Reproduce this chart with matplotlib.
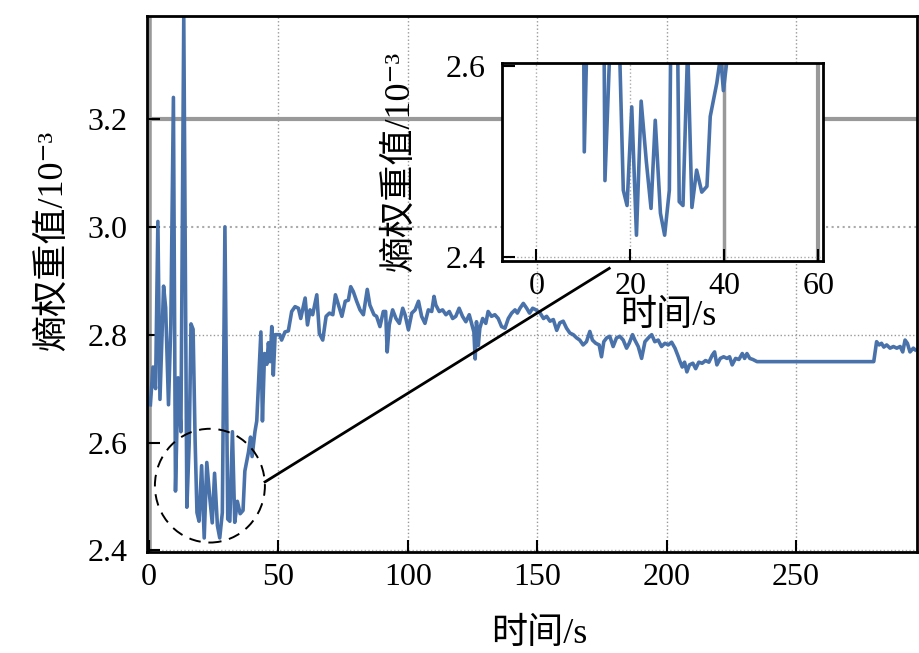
import matplotlib
matplotlib.use("Agg")
import matplotlib.pyplot as plt
from matplotlib.patches import Ellipse

plt.rcParams['font.family'] = ['Liberation Serif', 'Noto Sans CJK SC', 'DejaVu Serif']

# time (s) and entropy weight (x10^-3)
time_s = [0.5, 1.5, 2.5, 3.4, 4.2, 5.0, 5.6, 6.4, 7.5, 8.4, 9.4, 10.2, 11.2, 12.3, 13.4,
          14.6, 15.5, 16.2, 17.0, 17.8, 18.5, 19.3, 20.3, 21.3, 22.3, 23.4, 24.4, 25.3,
          26.4, 27.3, 28.3, 29.3, 30.4, 31.2, 32.2, 33.1, 34.1, 35.2, 36.3, 37.0, 38.4,
          39.2, 39.8, 40.9, 41.6, 42.5, 43.2, 43.8, 44.6, 45.5, 46.1, 46.8, 47.4, 48.0,
          48.7, 49.5, 50.5, 51.2, 52.5, 53.8, 55.1, 56.4, 57.7, 58.6, 60.3, 61.2, 62.2,
          63.2, 64.8, 65.8, 67.1, 68.4, 69.7, 71.0, 72.0, 73.2, 74.5, 75.8, 77.0, 77.9,
          78.9, 80.2, 81.5, 82.8, 84.3, 85.3, 86.9, 87.9, 89.2, 90.5, 91.4, 92.0, 92.8,
          94.1, 95.4, 96.7, 98.0, 98.9, 100.2, 101.5, 102.8, 104.1, 105.3, 106.6, 107.9,
          109.2, 110.1, 110.8, 112.1, 113.4, 114.7, 116.0, 117.3, 118.5, 119.8, 121.1,
          122.4, 123.7, 124.6, 125.5, 126.0, 126.5, 127.2, 127.8, 128.9, 130.1, 131.0,
          132.3, 133.6, 134.9, 136.2, 137.5, 138.8, 140.1, 141.4, 142.3, 143.3, 144.6,
          145.9, 147.0, 148.2, 149.5, 151.1, 152.4, 153.6, 154.9, 156.2, 157.5, 158.7,
          160.0, 161.3, 162.6, 163.9, 165.2, 166.4, 167.7, 169.0, 170.3, 171.3, 172.6,
          173.9, 174.8, 175.7, 176.8, 178.0, 179.3, 180.6, 181.9, 183.2, 184.5, 185.5,
          186.8, 187.7, 189.0, 190.3, 191.6, 192.9, 194.2, 195.4, 196.7, 198.0, 199.3,
          200.6, 201.9, 203.2, 204.5, 205.0, 206.0, 206.9, 207.8, 208.8, 210.1, 211.2,
          212.4, 213.7, 215.0, 216.3, 217.6, 218.5, 219.4, 220.7, 222.0, 223.3, 224.3,
          225.3, 226.6, 227.9, 229.2, 230.1, 231.0, 232.1, 233.3, 234.9, 280.0, 281.1,
          282.1, 283.0, 283.9, 285.0, 286.3, 287.6, 288.9, 290.2, 291.2, 292.1, 293.0,
          294.0, 295.3, 296.0]
weight = [2.67, 2.74, 2.70, 3.01, 2.68, 2.80, 2.89, 2.85, 2.67, 2.82, 3.24, 2.51, 2.72, 2.62, 3.39,
          2.48, 2.60, 2.82, 2.81, 2.60, 2.47, 2.454, 2.557, 2.423, 2.563, 2.50, 2.451, 2.543,
          2.446, 2.423, 2.47, 3.00, 2.458, 2.454, 2.62, 2.452, 2.491, 2.468, 2.474, 2.547, 2.582,
          2.61, 2.574, 2.62, 2.64, 2.735, 2.805, 2.64, 2.765, 2.745, 2.785, 2.75, 2.815, 2.725,
          2.80, 2.80, 2.80, 2.79, 2.805, 2.807, 2.843, 2.852, 2.849, 2.83, 2.868, 2.818, 2.846,
          2.837, 2.874, 2.802, 2.79, 2.834, 2.84, 2.837, 2.874, 2.855, 2.834, 2.862, 2.864, 2.889,
          2.88, 2.862, 2.846, 2.837, 2.884, 2.855, 2.837, 2.834, 2.815, 2.843, 2.843, 2.768, 2.818,
          2.846, 2.83, 2.821, 2.849, 2.837, 2.809, 2.84, 2.846, 2.862, 2.834, 2.821, 2.846,
          2.843, 2.871, 2.855, 2.843, 2.846, 2.837, 2.843, 2.83, 2.834, 2.849, 2.834,
          2.824, 2.837, 2.821, 2.805, 2.755, 2.824, 2.78, 2.812, 2.83, 2.821, 2.843,
          2.834, 2.837, 2.83, 2.815, 2.812, 2.83, 2.84, 2.846, 2.84, 2.849, 2.858,
          2.849, 2.84, 2.849, 2.846, 2.84, 2.83, 2.834, 2.825, 2.828, 2.808, 2.822,
          2.825, 2.812, 2.803, 2.80, 2.794, 2.79, 2.781, 2.787, 2.806, 2.79, 2.784,
          2.781, 2.759, 2.787, 2.794, 2.797, 2.778, 2.794, 2.797, 2.79, 2.775, 2.784,
          2.80, 2.79, 2.778, 2.756, 2.787, 2.794, 2.80, 2.787, 2.79, 2.778, 2.784,
          2.781, 2.786, 2.775, 2.759, 2.752, 2.74, 2.749, 2.731, 2.744, 2.747, 2.737,
          2.749, 2.747, 2.752, 2.749, 2.762, 2.768, 2.744, 2.756, 2.759, 2.756, 2.759,
          2.744, 2.756, 2.754, 2.765, 2.756, 2.765, 2.756, 2.754, 2.75, 2.75, 2.787,
          2.781, 2.784, 2.777, 2.781, 2.775, 2.778, 2.775, 2.778, 2.768, 2.79, 2.784,
          2.768, 2.775, 2.772]

x_ticks = [0, 50, 100, 150, 200, 250]
y_ticks = [2.4, 2.6, 2.8, 3.0, 3.2]
inset_x_ticks = [0, 20, 40, 60]
inset_y_ticks = [2.4, 2.6]

ylabel_text = "熵权重值/10\u207b\u00b3"
xlabel_text = "时间/s"

line_color = '#4a72aa'
fs = 23
lfs = 26

fig = plt.figure(figsize=(9.2, 6.53), dpi=100)
ax = fig.add_axes([0.1598, 0.1547, 0.8369, 0.8208])

# grid (as in reference)
for xt in x_ticks[1:]:
    ax.axvline(xt, color='#999999', lw=1.0, ls=':', zorder=0)
ax.axvline(0, color='#999999', lw=4, zorder=0)
ax.axhline(2.8, color='#999999', lw=1.0, ls=':', zorder=0)
ax.axhline(3.0, color='#aaaaaa', lw=1.5, ls=':', zorder=0)
ax.axhline(3.2, color='#999999', lw=3, zorder=0)
ax.axhline(2.4, color='#aaaaaa', lw=1.0, ls=':', zorder=0)

ax.plot(time_s, weight, color=line_color, lw=2.6, zorder=2)
ax.set_xlim(-0.8, 296.7)
ax.set_ylim(2.397, 3.391)
ax.set_xticks(x_ticks)
ax.set_yticks(y_ticks)
ax.set_yticklabels([f"{v:.1f}" for v in y_ticks])
ax.tick_params(direction='in', length=9, width=1.5, labelsize=fs, top=False, right=False, pad=8)
ax.tick_params(axis='y', pad=14)
for s in ax.spines.values():
    s.set_linewidth(2)
ax.set_ylabel(ylabel_text, fontsize=lfs)
ax.yaxis.set_label_coords(-0.10, 0.58)
ax.set_xlabel(xlabel_text, fontsize=lfs)
ax.xaxis.set_label_coords(0.51, -0.122)

# dashed circle and connector
ell = Ellipse((23.5, 2.52), 42.5, 0.211, fill=False, ls=(0, (6, 4)), lw=1.4, color='black', zorder=3)
ax.add_patch(ell)
ax.plot([44.8, 177.8], [2.527, 2.923], color='black', lw=2, zorder=3)

# inset
axi = fig.add_axes([0.5457, 0.6008, 0.3489, 0.3027])
axi.set_facecolor('white')
axi.axvline(0, color='#aaaaaa', lw=1.0, ls=':', zorder=0)
axi.axvline(20, color='#aaaaaa', lw=1.0, ls=':', zorder=0)
axi.axvline(40, color='#999999', lw=2.5, zorder=0)
axi.axvline(60, color='#999999', lw=3, zorder=0)
axi.axhline(2.4, color='#aaaaaa', lw=1.0, ls=':', zorder=0)
axi.plot(time_s, weight, color=line_color, lw=2.6, zorder=2)
axi.set_xlim(-7.3, 61)
axi.set_ylim(2.3964, 2.6028)
axi.set_xticks(inset_x_ticks)
axi.set_yticks(inset_y_ticks)
axi.set_yticklabels([f"{v:.1f}" for v in inset_y_ticks])
axi.tick_params(direction='in', length=9, width=1.5, labelsize=fs, top=False, right=False, pad=8)
axi.tick_params(axis='y', pad=12)
for s in axi.spines.values():
    s.set_linewidth(2)
axi.set_ylabel(ylabel_text, fontsize=lfs)
axi.yaxis.set_label_coords(-0.265, 0.5)
axi.set_xlabel(xlabel_text, fontsize=lfs)
axi.xaxis.set_label_coords(0.517, -0.20)

fig.savefig("out.png", dpi=100)
